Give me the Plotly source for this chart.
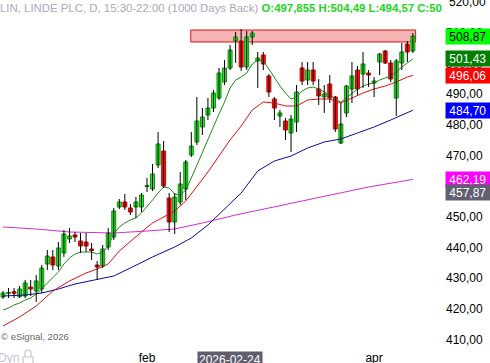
import plotly.graph_objects as go
import pandas as pd

# ---------------- data ----------------
holidays = ['2025-12-25', '2026-01-01', '2026-01-19', '2026-02-16', '2026-04-03']
dates = [d.strftime('%Y-%m-%d') for d in
         pd.bdate_range('2025-12-23', '2026-04-13', freq='C', holidays=holidays)]

opens = [423.89, 425.03, 425.61, 423.98, 424.21, 427.14, 425.84, 426.49, 434.64, 436.92,
         433.98, 438.22, 442.78, 444.08, 442.13, 441.80, 439.52, 434.31, 433.98, 440.17,
         443.43, 453.20, 454.83, 452.87, 453.20, 453.20, 459.88, 459.06, 466.88, 471.44,
         456.13, 448.31, 454.83, 459.06, 470.14, 474.37, 479.26, 483.16, 485.44, 488.70,
         493.91, 498.47, 507.27, 507.27, 498.80, 508.57, 500.75, 502.71, 495.87, 488.38,
         482.84, 481.21, 477.30, 480.88, 498.47, 494.56, 497.82, 491.63, 489.03, 493.26,
         489.03, 474.04, 483.82, 491.63, 497.82, 496.52, 496.84, 493.59, 500.43, 504.01,
         500.10, 488.70, 500.10, 506.29, 504.01]
highs = [425.84, 426.82, 426.82, 427.47, 429.42, 429.42, 431.05, 434.31, 439.19, 439.19,
         441.80, 445.71, 446.36, 445.06, 444.73, 444.73, 441.48, 435.61, 440.82, 446.36,
         452.87, 455.81, 457.43, 454.18, 456.46, 457.76, 462.65, 467.21, 477.63, 474.70,
         457.76, 457.76, 464.60, 468.51, 477.63, 489.03, 485.44, 488.70, 491.31, 498.47,
         501.08, 505.96, 510.20, 511.17, 510.52, 510.52, 503.68, 503.68, 496.52, 489.03,
         484.79, 482.19, 483.16, 492.94, 500.43, 500.43, 500.43, 494.89, 492.94, 496.19,
         489.35, 487.07, 492.94, 500.43, 499.12, 503.68, 497.82, 495.54, 503.36, 504.33,
         501.08, 501.40, 506.61, 507.27, 509.87]
lows = [423.24, 423.56, 423.56, 423.56, 423.56, 424.21, 422.26, 425.19, 432.68, 432.68,
        432.68, 436.92, 441.48, 441.80, 438.22, 438.54, 435.94, 429.42, 433.33, 439.19,
        442.45, 452.55, 452.22, 450.59, 449.62, 451.57, 458.09, 458.41, 465.90, 459.39,
        445.06, 444.41, 453.85, 455.48, 469.49, 473.39, 476.65, 481.54, 484.14, 488.05,
        492.94, 497.82, 500.10, 497.50, 497.82, 505.96, 491.96, 497.82, 489.03, 481.54,
        479.26, 475.02, 471.11, 477.63, 492.94, 492.94, 492.94, 486.42, 483.82, 487.07,
        477.63, 473.72, 482.51, 487.07, 489.68, 491.96, 492.29, 489.03, 496.19, 499.78,
        493.91, 482.84, 497.82, 500.43, 503.36]
closes = [425.19, 425.35, 425.09, 426.49, 428.45, 426.49, 429.10, 433.33, 437.24, 434.31,
          439.85, 444.41, 443.75, 443.43, 440.50, 440.50, 439.03, 433.66, 439.52, 444.73,
          451.90, 454.83, 453.20, 451.57, 454.83, 457.11, 460.20, 463.95, 473.72, 460.04,
          448.31, 456.46, 460.69, 467.86, 473.07, 481.21, 482.51, 485.44, 490.33, 496.84,
          498.47, 504.33, 508.57, 498.80, 508.57, 509.87, 501.73, 499.78, 490.66, 485.44,
          483.82, 478.28, 481.86, 490.66, 494.24, 497.82, 494.24, 489.35, 490.00, 488.70,
          478.60, 480.23, 492.61, 495.87, 491.63, 499.78, 496.19, 494.24, 503.03, 500.10,
          494.89, 500.75, 503.68, 503.68, 508.87]

ma_green = [419.65, 420.30, 421.28, 421.93, 422.91, 423.56, 424.86, 426.49, 428.45, 430.08,
            432.03, 434.64, 436.59, 437.89, 438.54, 438.54, 438.54, 437.89, 438.54, 440.50,
            444.41, 446.69, 447.99, 448.97, 449.62, 451.25, 453.20, 455.48, 457.76, 459.71,
            459.39, 457.43, 457.11, 458.74, 462.65, 466.88, 471.11, 475.02, 479.26, 483.49,
            487.40, 491.96, 494.56, 495.54, 496.84, 499.78, 501.08, 500.75, 498.15, 495.22,
            492.61, 490.33, 488.38, 489.03, 490.98, 491.96, 492.28, 491.63, 490.66, 489.68,
            488.38, 487.40, 488.70, 490.33, 491.63, 492.61, 493.26, 493.59, 494.56, 495.22,
            495.87, 497.17, 498.80, 500.10, 501.43]
ma_red_idx = [0, 3, 6, 9, 12, 15, 17, 19, 21, 23, 25, 27, 29, 31, 33, 35, 37, 39, 41, 43,
              45, 47, 49, 51, 53, 55, 57, 59, 61, 63, 65, 67, 69, 71, 73, 74]
ma_red = [414.44, 417.37, 420.96, 425.84, 429.10, 431.70, 433.01, 434.64, 438.87, 442.13,
          445.06, 447.99, 449.94, 451.90, 455.15, 459.71, 464.60, 469.81, 475.02, 479.58,
          484.79, 487.40, 487.07, 486.10, 486.10, 488.05, 488.38, 488.38, 487.07, 488.70,
          490.33, 491.63, 492.61, 493.91, 495.54, 496.06]
ma_blue_idx = [0, 4, 7, 10, 13, 17, 20, 23, 27, 31, 34, 37, 40, 43, 46, 49, 52, 55, 58, 61,
               64, 67, 70, 72, 74]
ma_blue = [424.21, 424.54, 425.19, 426.49, 428.12, 429.75, 430.73, 433.33, 436.92, 440.17,
           443.10, 447.34, 452.55, 457.76, 464.93, 468.18, 469.81, 472.42, 474.37, 475.35,
           477.30, 479.26, 481.54, 483.16, 484.70]
ma_mag_idx = [0, 6, 12, 20, 26, 31, 36, 42, 48, 54, 60, 66, 74]
ma_mag = [446.69, 446.03, 445.06, 444.73, 445.38, 446.03, 447.99, 450.59, 452.87, 455.15,
          457.43, 459.71, 462.19]

zone_low, zone_high, zone_start = 506.94, 510.85, 33.9

tag_values = [508.87, 501.43, 496.06, 484.70, 462.19, 457.87]
tag_bg = ['#00ff00', '#008000', '#ff0000', '#0000ff', '#ff00ff', '#606070']
tag_fg = ['#000000', '#ffffff', '#ffffff', '#ffffff', '#ffffff', '#ffffff']

month_ticks = ['2026-02-02', '2026-04-01']
month_labels = ['feb', 'apr']
marked_date = '2026-02-24'
y_ticks = list(range(410, 521, 10))

FONT = 'Liberation Sans'

# ---------------- figure ----------------
fig = go.Figure()

def line(idx, vals, color):
    fig.add_trace(go.Scatter(x=[dates[i] for i in idx], y=vals, mode='lines',
                             line=dict(color=color, width=1), hoverinfo='skip'))

line(ma_mag_idx, ma_mag, '#d030d0')
line(ma_blue_idx, ma_blue, '#0a0aa0')
line(ma_red_idx, ma_red, '#dd1010')
line(range(len(dates)), ma_green, '#1e8c1e')

# wicks
wx, wy = [], []
for d, h, l in zip(dates, highs, lows):
    wx += [d, d, None]
    wy += [l, h, None]
fig.add_trace(go.Scatter(x=wx, y=wy, mode='lines', line=dict(color='#000000', width=1),
                         hoverinfo='skip'))

# bodies
base = [min(o, c) for o, c in zip(opens, closes)]
height = [max(abs(c - o), 0.3) for o, c in zip(opens, closes)]
up = [c >= o for o, c in zip(opens, closes)]
fig.add_trace(go.Bar(x=dates, y=height, base=base, width=0.72,
                     marker=dict(color=['#22ee22' if u else '#ee1111' for u in up],
                                 line=dict(color=['#109010' if u else '#dd0000' for u in up],
                                           width=1)),
                     hoverinfo='skip'))

# resistance zone
fig.add_shape(type='rect', xref='x', yref='y', x0=zone_start, x1=len(dates) - 0.5,
              y0=zone_low, y1=zone_high, fillcolor='#f7b4b4',
              line=dict(color='#e01010', width=1), layer='below')

# top tick label (plotly drops it because it touches the edge)
fig.add_annotation(xref='paper', x=1, xanchor='left', yref='y', y=y_ticks[-1],
                   yanchor='middle', xshift=2, showarrow=False,
                   text=f"{y_ticks[-1]:.2f}".replace('.', ','),
                   font=dict(family=FONT, size=12, color='#000000'))

# price tags
for v, bg, fg in zip(tag_values, tag_bg, tag_fg):
    fig.add_annotation(xref='paper', x=1, xanchor='left', yref='y', y=v, yanchor='middle',
                       text='&nbsp;' + f"{v:.2f}".replace('.', ','), showarrow=False,
                       font=dict(family=FONT, size=12, color=fg), bgcolor=bg,
                       width=52, height=15, align='left', borderpad=0, xshift=0)

# title
fig.add_annotation(xref='paper', yref='paper', x=0, y=1, xanchor='left', yanchor='top',
                   showarrow=False, xshift=-2, yshift=0,
                   text="<span style='color:#a9a9bd'>LIN, LINDE PLC, D, 15:30-22:00 (1000 Days Back)</span>"
                        " <span style='color:#22d622'><b>O:497,855 H:504,49 L:494,57 C:50</b></span>",
                   font=dict(family=FONT, size=11.4))

fig.add_annotation(xref='paper', yref='paper', x=0, y=0, xanchor='left', yanchor='bottom',
                   showarrow=False, yshift=5, xshift=-1, text='© eSignal, 2026',
                   font=dict(family=FONT, size=9.5, color='#666666'))
fig.add_annotation(xref='paper', yref='paper', x=0, y=0, xanchor='left', yanchor='top',
                   showarrow=False, yshift=0, xshift=-4, text='Dyn',
                   font=dict(family=FONT, size=12, color='#c4c4d4'))
# lock icon next to "Dyn"
fig.add_shape(type='rect', xref='paper', yref='paper', xsizemode='pixel', ysizemode='pixel',
              xanchor=0, yanchor=0, x0=23, x1=33, y0=-8, y1=-16,
              line=dict(color='#c4c4d4', width=1.2), fillcolor='rgba(0,0,0,0)')
fig.add_shape(type='path', xref='paper', yref='paper', xsizemode='pixel', ysizemode='pixel',
              xanchor=0, yanchor=0,
              path='M 25,-8 L 25,-4 Q 25,-1 28,-1 Q 31,-1 31,-4 L 31,-8',
              line=dict(color='#c4c4d4', width=1.2))

fig.add_annotation(xref='x', yref='paper', x=marked_date, y=0, yanchor='top',
                   showarrow=False, yshift=-2, text=marked_date,
                   font=dict(family=FONT, size=12, color='#ffffff'), bgcolor='#5e5e6e',
                   borderpad=1)

fig.update_layout(
    width=490, height=363,
    margin=dict(l=0, r=45, t=0, b=14, autoexpand=False),
    paper_bgcolor='white', plot_bgcolor='white',
    showlegend=False, barmode='overlay', separators=',.',
    font=dict(family=FONT, size=12, color='#000000'),
)
fig.update_xaxes(type='category', categoryorder='array', categoryarray=dates,
                 range=[-0.54, 79.8], tickvals=month_ticks, ticktext=month_labels,
                 showgrid=False, zeroline=False, showline=False, ticks='', automargin=False,
                 tickfont=dict(family=FONT, size=12, color='#000000'))
fig.update_yaxes(side='right', range=[406.95, 520.62], tickvals=y_ticks, tickformat='.2f',
                 showgrid=False, zeroline=False, showline=False, ticks='', automargin=False,
                 tickfont=dict(family=FONT, size=12, color='#000000'))

fig.write_html('out.html', config={'displayModeBar': False},
               post_script="document.body.style.margin='0px';document.body.style.overflow='hidden';")
